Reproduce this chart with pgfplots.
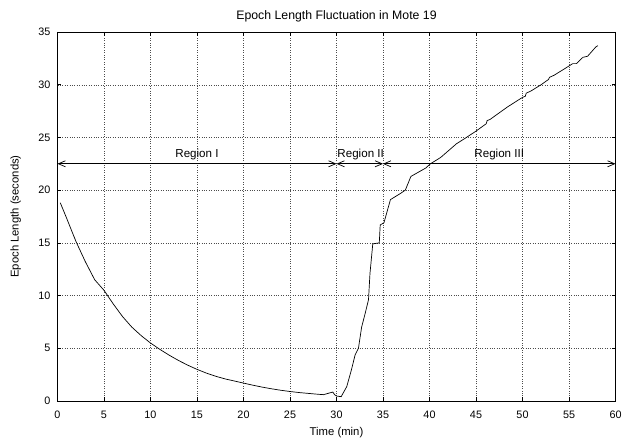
\documentclass[border=0pt]{standalone}
\usepackage{pgfplots}
\pgfplotsset{compat=1.18}
\usepackage{fontspec}
\setmainfont{Liberation Sans}
\usetikzlibrary{arrows.meta,calc}
\begin{document}
\begin{tikzpicture}[font=\fontsize{11.3bp}{13bp}\selectfont]
\begin{axis}[
  scale only axis,
  width=558bp, height=369bp,
  xmin=0, xmax=60, ymin=0, ymax=35,
  xtick={0,5,...,60}, ytick={0,5,...,35},
  tick align=inside, tick pos=both,
  major tick length=4bp,
  grid=major,
  grid style={black!70, line width=0.4bp, dash pattern=on 0.8bp off 1.6bp},
  axis line style={line width=0.8bp},
  every tick/.style={black, line width=0.6bp},
  /pgf/number format/assume math mode=true,
  tick label style={font=\fontsize{10.8bp}{12bp}\selectfont},
  xticklabel style={anchor=north, yshift=-9.5bp, inner sep=0pt},
  yticklabel style={anchor=east, xshift=-7bp, inner sep=0pt},
  clip=false,
]
\addplot[black, line width=0.7bp] coordinates {
(0.3,18.8) (1,17.3) (2,15.1) (3,13.2) (4,11.5) (4.5,11.0) (5,10.5) (6,9.2) (7,8.0) (8,7.0)
(9,6.2) (10,5.5) (11,4.9) (12,4.35) (13,3.85) (14,3.4) (15,3.0) (16,2.65) (17,2.35)
(18,2.1) (19,1.9) (20,1.7) (21,1.5) (22,1.32) (23,1.16) (24,1.02) (25,0.9) (26,0.8)
(27,0.72) (28,0.64) (28.6,0.6)
(29.6,0.85) (29.8,0.6) (30,0.47) (30.5,0.41) (31.1,1.36) (31.6,2.94) (32,4.37)
(32.36,5.0) (32.7,7.0) (33.08,8.3) (33.44,9.6) (33.6,12.1) (33.9,14.9) (34.6,15.0)
(34.7,16.7) (35.1,16.9) (35.8,19.1) (36.9,19.7) (37.4,20.0) (38.0,21.3) (39.6,22.1)
(40.1,22.5) (41.2,23.1) (42.9,24.4) (43.8,24.9) (45,25.6) (46.1,26.3) (46.2,26.6)
(46.5,26.7) (48.4,27.9) (50,28.8) (50.3,28.9) (50.4,29.2) (50.9,29.4) (52,30.0)
(52.8,30.5) (52.9,30.7) (53.4,30.9) (54.5,31.5) (55.4,32.0) (55.8,32.0) (56.5,32.6)
(57,32.7) (57.9,33.6) (58.1,33.7)
};
\draw[line width=0.7bp, {Straight Barb[length=7bp,width=6bp]}-{Straight Barb[length=7bp,width=6bp]}] (axis cs:0,22.5) -- (axis cs:30,22.5);
\draw[line width=0.7bp, {Straight Barb[length=7bp,width=6bp]}-{Straight Barb[length=7bp,width=6bp]}] (axis cs:30,22.5) -- (axis cs:35,22.5);
\draw[line width=0.7bp, {Straight Barb[length=7bp,width=6bp]}-{Straight Barb[length=7bp,width=6bp]}] (axis cs:35,22.5) -- (axis cs:60,22.5);
\node[anchor=base, inner sep=0pt, font=\fontsize{11.6bp}{13bp}\selectfont] at (axis cs:15,23.1) {Region I};
\node[anchor=base, inner sep=0pt, font=\fontsize{11.6bp}{13bp}\selectfont] at (axis cs:32.6,23.1) {Region II};
\node[anchor=base, inner sep=0pt, font=\fontsize{11.6bp}{13bp}\selectfont] at (axis cs:47.5,23.1) {Region III};
\end{axis}
\node[anchor=base, inner sep=0pt, font=\fontsize{12.3bp}{14bp}\selectfont] at ($(current axis.north)+(0,12.4bp)$) {Epoch Length Fluctuation in Mote 19};
\node[anchor=base, inner sep=0pt] at ($(current axis.south)+(0,-34bp)$) {Time (min)};
\node[anchor=base, inner sep=0pt, rotate=90] at ($(current axis.west)+(-39bp,0)$) {Epoch Length (seconds)};
\pgfresetboundingbox
\path[use as bounding box] ($(current axis.south west)+(-57.5bp,-37bp)$) rectangle ($(current axis.north east)+(8.5bp,32bp)$);
\end{tikzpicture}
\end{document}
